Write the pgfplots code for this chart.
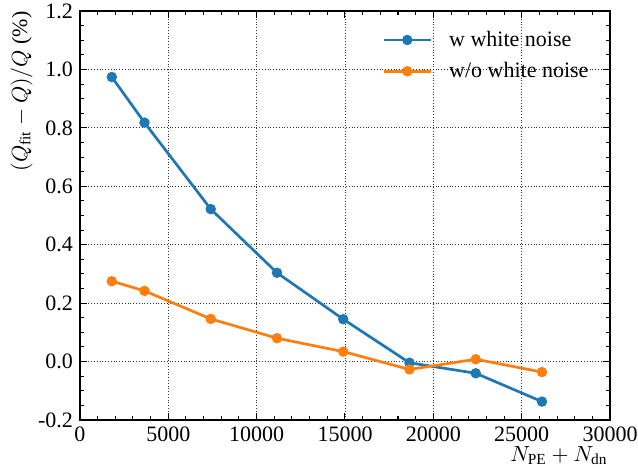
\documentclass[border=0pt]{standalone}
\usepackage{fontspec}
\setmainfont{Liberation Serif}
\usepackage{pgfplots}
\pgfplotsset{compat=1.18}
\definecolor{tblue}{HTML}{1F77B4}
\definecolor{torange}{HTML}{FF7F0E}
\begin{document}
\begin{tikzpicture}
\useasboundingbox (-40pt,-26pt) rectangle (279pt,210pt);
\begin{axis}[
  at={(0,0)}, anchor=south west, scale only axis,
  width=265pt, height=204.5pt,
  xmin=0, xmax=30000, ymin=-0.2, ymax=1.2,
  xtick={0,5000,10000,15000,20000,25000,30000},
  ytick={-0.2,0,0.2,0.4,0.6,0.8,1.0,1.2},
  minor x tick num=4, minor y tick num=3,
  tick align=inside, xtick pos=both, ytick pos=both,
  major tick length=3.5pt, minor tick length=2pt,
  every tick/.style={black, line width=0.5pt},
  axis line style={line width=0.8pt},
  grid=major, major grid style={densely dotted, black!80, line width=0.4pt},
  scaled x ticks=false,
  /pgf/number format/assume math mode=true,
  x tick label style={/pgf/number format/.cd, set thousands separator={}, fixed},
  y tick label style={/pgf/number format/.cd, fixed, fixed zerofill, precision=1},
  tick label style={font=\fontsize{11}{13}\selectfont},
  label style={font=\fontsize{11}{13}\selectfont},
  xlabel={$N_{\mathrm{PE}}+N_{\mathrm{dn}}$},
  xlabel style={at={(axis description cs:1,0)}, anchor=north east, inner sep=0pt, yshift=-13pt, xshift=-1pt},
  ylabel={$(Q_{\mathrm{fit}}-Q)/Q$ (\%)},
  ylabel style={at={(axis description cs:-0.0887,1)}, anchor=south east, inner sep=0pt},
  legend cell align=left,
  legend style={draw=none, fill=none, at={(rel axis cs:0.979,0.972)}, anchor=north east,
    font=\fontsize{11}{13}\selectfont, row sep=2.5pt,
    /tikz/every odd column/.append style={column sep=6.5pt}},
  legend image code/.code={
    \draw[#1, mark repeat=2, mark phase=2] plot coordinates {(0pt,0pt) (11.75pt,0pt) (23.5pt,0pt)};
  },
]
\addplot[tblue, line width=1.35pt, mark=*, mark size=1.9pt, mark options={solid, fill=tblue, draw=tblue}]
  coordinates {(1800,0.974) (3650,0.818) (7400,0.522) (11150,0.304) (14900,0.145) (18650,-0.004) (22400,-0.040) (26150,-0.137)};
\addlegendentry{w white noise}
\addplot[torange, line width=1.35pt, mark=*, mark size=1.9pt, mark options={solid, fill=torange, draw=torange}]
  coordinates {(1800,0.275) (3650,0.242) (7400,0.146) (11150,0.080) (14900,0.034) (18650,-0.027) (22400,0.008) (26150,-0.036)};
\addlegendentry{w/o white noise}
\end{axis}
\end{tikzpicture}
\end{document}
